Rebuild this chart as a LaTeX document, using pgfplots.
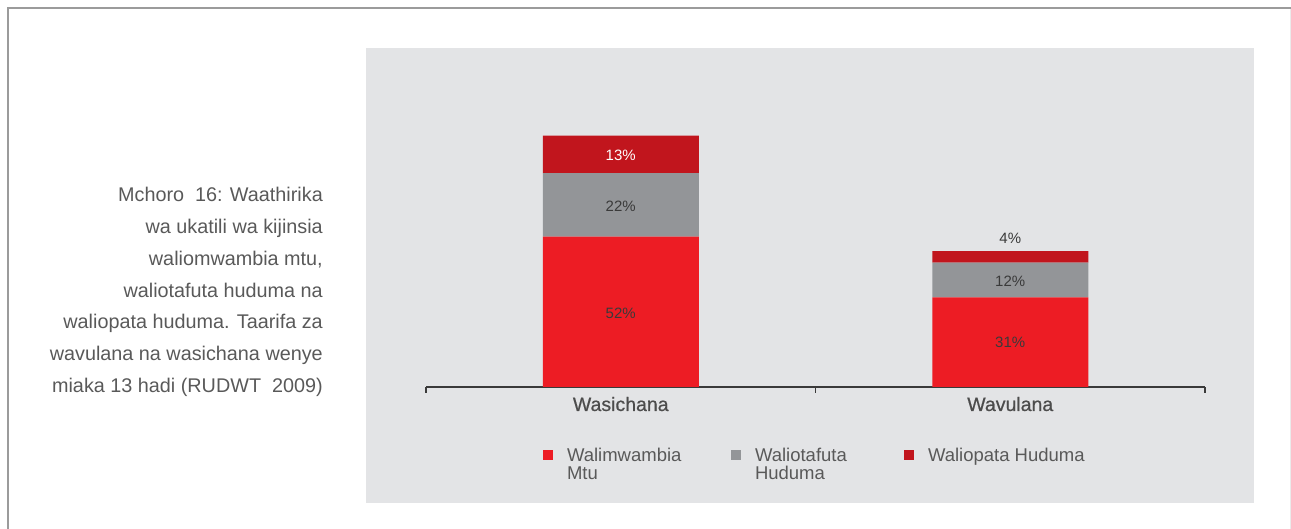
\documentclass[border=0pt]{standalone}
\usepackage{fontspec}
\setmainfont{Liberation Sans}
\newfontfamily\catfont{Liberation Sans}[FakeBold=0.6]
\usepackage{pgfplots}
\pgfplotsset{compat=1.18}
\definecolor{cRed}{HTML}{ED1C24}
\definecolor{cGray}{HTML}{939598}
\definecolor{cDark}{HTML}{C1151D}
\definecolor{panel}{HTML}{E3E4E6}
\definecolor{frame}{HTML}{9B9B9B}
\definecolor{txt}{HTML}{595959}
\definecolor{lbl}{HTML}{3A3A3A}

\pgfplotsset{
  base/.style={width=779pt, height=289pt, scale only axis,
    at={(426pt,142pt)}, anchor=south west,
    xmin=-0.5, xmax=1.5, ymin=0, ymax=100, clip=false},
}

\begin{document}
\begin{tikzpicture}[x=1pt,y=1pt]
\useasboundingbox (0,0) rectangle (1291,529);
\draw[frame, line width=2pt] (7.5,-10) -- (7.5,521) -- (1300,521);
\draw[black!8, line width=1pt] (1290.5,-10) -- (1290.5,520);
\fill[panel] (366,26) rectangle (1254,481);
\node[anchor=north east, align=right, inner sep=0pt, text=txt,
  font=\fontsize{19.8}{31.7}\selectfont] at (323,341.6)
  {Mchoro\ \ 16: Waathirika\\wa ukatili wa kijinsia\\waliomwambia mtu,\\waliotafuta huduma na\\waliopata huduma. Taarifa za\\wavulana na wasichana wenye\\miaka 13 hadi (RUDWT\ \ 2009)};

\begin{axis}[base, ybar stacked, bar width=156pt,
  axis y line=none, axis x line*=bottom,
  axis line style={lbl, line width=1.2pt},
  xtick={0,1}, xticklabels={Wasichana,Wavulana}, major tick length=0pt,
  xticklabel style={anchor=base, yshift=-24pt, text=black!70,
    font=\catfont\fontsize{19.5}{20}\selectfont},
  extra x ticks={-0.5,0.5,1.5}, extra x tick labels={},
  extra x tick style={major tick length=6pt, tick align=outside,
    tick style={lbl, line width=1.2pt}},
  legend columns=3, legend cell align=left,
  legend image code/.code={\fill[#1] (0pt,2pt) rectangle (10pt,12pt); \path[draw=none,fill=none] (0pt,2pt) rectangle (22pt,12pt);},
  legend style={draw=none, fill=none, inner sep=0pt, outer sep=0pt,
    at={(0.1502,-0.2048)}, anchor=north west, column sep=0pt,
    font=\fontsize{18.5}{18}\selectfont, text=txt,
    cells={anchor=base west, inner sep=0pt}},
]
\addplot[fill=cRed, draw=none] coordinates {(0,52) (1,31)};
\addlegendentry{\parbox[t]{162pt}{\raggedright Walimwambia\\Mtu}}
\addplot[fill=cGray, draw=none] coordinates {(0,22) (1,12)};
\addlegendentry{\parbox[t]{147pt}{\raggedright Waliotafuta\\Huduma}}
\addplot[fill=cDark, draw=none] coordinates {(0,13) (1,4)};
\addlegendentry{Waliopata Huduma}
\end{axis}

\begin{axis}[base, hide axis,
  every node near coord/.append style={anchor=center, inner sep=0pt,
    font=\fontsize{15}{16}\selectfont}]
\addplot[draw=none, mark=none, nodes near coords, point meta=explicit symbolic,
  nodes near coords style={text=lbl}]
  coordinates {(0,25.6)[52\%] (0,62.4)[22\%] (1,15.3)[31\%] (1,36.6)[12\%] (1,51.5)[4\%]};
\addplot[draw=none, mark=none, nodes near coords, point meta=explicit symbolic,
  nodes near coords style={text=white}]
  coordinates {(0,80.3)[13\%]};
\end{axis}
\end{tikzpicture}
\end{document}
